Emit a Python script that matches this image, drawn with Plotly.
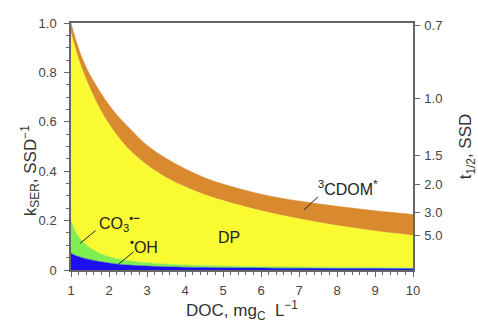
import math
import plotly.graph_objects as go

# DOC values (mgC/L)
doc = [1, 1.1, 1.25, 1.5, 1.75, 2, 2.25, 2.5, 3, 3.5, 4, 4.5, 5, 6, 7, 8, 9, 10]
# cumulative tops of stacked contributions (k_SER, SSD^-1)
oh_top = [0.068, 0.060, 0.052, 0.042, 0.034, 0.028, 0.023, 0.020, 0.016, 0.013,
          0.011, 0.010, 0.009, 0.008, 0.007, 0.0065, 0.006, 0.0055]
co3_top = [0.20, 0.162, 0.125, 0.09, 0.068, 0.054, 0.045, 0.038, 0.029, 0.024,
           0.020, 0.018, 0.016, 0.0135, 0.012, 0.011, 0.010, 0.009]
dp_top = [0.96, 0.905, 0.83, 0.735, 0.655, 0.59, 0.537, 0.492, 0.425, 0.375,
          0.337, 0.306, 0.281, 0.240, 0.207, 0.180, 0.158, 0.14]
cdom_top = [1.00, 0.945, 0.875, 0.79, 0.725, 0.668, 0.62, 0.58, 0.505, 0.452,
            0.41, 0.375, 0.348, 0.307, 0.279, 0.258, 0.240, 0.225]

half_life_ticks = [0.7, 1.0, 1.5, 2.0, 3.0, 5.0]
half_life_labels = ["0.7", "1.0", "1.5", "2.0", "3.0", "5.0"]

colors = {"oh": "#1E10EE", "co3": "#80EE50", "dp": "#FAFA32", "cdom": "#D98A2E"}

fig = go.Figure()
series = [("oh", oh_top, "tozeroy"), ("co3", co3_top, "tonexty"),
          ("dp", dp_top, "tonexty"), ("cdom", cdom_top, "tonexty")]
for name, ys, fill in series:
    fig.add_trace(go.Scatter(x=doc, y=ys, mode="lines", fill=fill,
                             fillcolor=colors[name],
                             line=dict(width=0.5, color=colors[name],
                                       shape="spline", smoothing=1.0),
                             hoverinfo="skip", showlegend=False))
# dummy trace for right axis
fig.add_trace(go.Scatter(x=[None], y=[None], yaxis="y2", showlegend=False))

axcol = "#666666"
FONT = "Liberation Sans, Arial, sans-serif"
tickfont = dict(family=FONT, size=13, color="#444444")
titlefont = dict(family=FONT, size=17, color="#333333")

fig.update_layout(
    width=478, height=323, autosize=False,
    margin=dict(l=71, r=65, t=23, b=53, autoexpand=False),
    plot_bgcolor="white", paper_bgcolor="white",
    xaxis=dict(range=[1, 10], tickvals=list(range(1, 11)), ticks="outside",
               ticklen=5, tickcolor=axcol, showline=True, linecolor=axcol,
               linewidth=1.5, mirror=True, showgrid=False, zeroline=False,
               tickfont=tickfont, ticklabelstandoff=3, automargin=True,
               minor=dict(dtick=0.2, ticks="outside", ticklen=3, tickcolor=axcol),
               title=dict(text="DOC, mg<sub>C</sub>  L<sup>−1</sup>", font=titlefont,
                          standoff=13)),
    yaxis=dict(range=[0, 1.0], tickvals=[0, 0.2, 0.4, 0.6, 0.8, 1.0],
               ticktext=["0", "0.2", "0.4", "0.6", "0.8", "1.0"],
               ticks="outside", ticklen=5, tickcolor=axcol, showline=True,
               linecolor=axcol, linewidth=1.5, mirror=True, showgrid=False,
               zeroline=False, tickfont=tickfont, ticklabelstandoff=5,
               automargin=True,
               minor=dict(dtick=0.05, ticks="outside", ticklen=3, tickcolor=axcol)),
    yaxis2=dict(range=[0, 1.0], overlaying="y", side="right",
                tickvals=[math.log(2) / t for t in half_life_ticks],
                ticktext=half_life_labels, ticks="outside", ticklen=5,
                tickcolor=axcol, showline=True, linecolor=axcol, linewidth=1.5,
                showgrid=False, zeroline=False, tickfont=tickfont,
                ticklabelstandoff=2, automargin=True,
                title=dict(text="t<sub>1/2</sub>, SSD", font=titlefont, standoff=19)),
)

# left axis title as rotated text
fig.add_annotation(x=-0.12, y=0.404, xref="paper", yref="paper",
                   text="k<sub>SER</sub>, SSD<sup>−1</sup>", textangle=-90,
                   showarrow=False, font=titlefont, xanchor="center", yanchor="middle")

annfont = dict(family=FONT, size=16, color="#222222")
anns = [
    dict(x=1.69, y=0.19, text="CO<sub>3</sub><sup><b>•−</b></sup>"),
    dict(x=2.5, y=0.096, text="<sup><b>•</b></sup>OH"),
    dict(x=4.82, y=0.131, text="DP"),
    dict(x=7.45, y=0.33, text="<sup>3</sup>CDOM<sup>*</sup>"),
]
for a in anns:
    fig.add_annotation(x=a["x"], y=a["y"], text=a["text"], showarrow=False,
                       font=annfont, xref="x", yref="y", xanchor="left")
# pointer lines
pointers = [((1.65, 0.16), (1.24, 0.108)), ((2.65, 0.074), (2.25, 0.023)),
            ((7.5, 0.296), (7.13, 0.243))]
for (x0, y0), (x1, y1) in pointers:
    fig.add_shape(type="line", x0=x0, y0=y0, x1=x1, y1=y1, xref="x", yref="y",
                  line=dict(color="#222222", width=1))

fig.write_html("out.html")
